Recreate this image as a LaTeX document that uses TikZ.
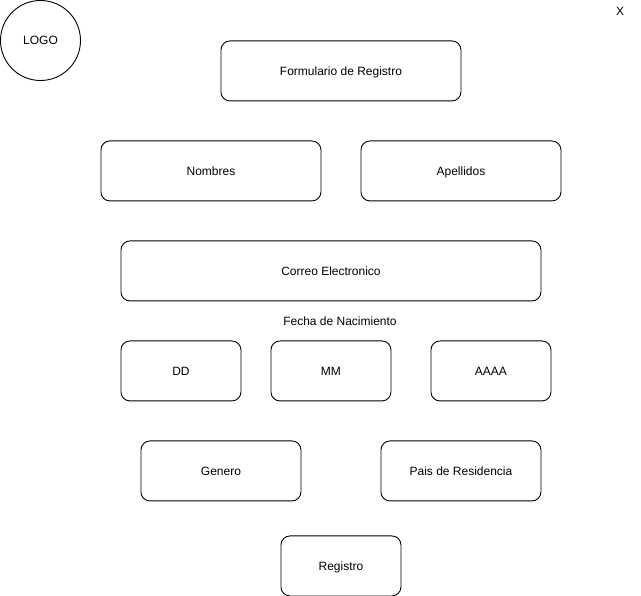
\documentclass[tikz,border=0pt]{standalone}
\usepackage{fontspec}
\setmainfont{Liberation Sans}
\begin{document}
\begin{tikzpicture}[x=1pt,y=-1pt,
  box/.style={draw, line width=0.9pt, rounded corners=9pt, anchor=north west, inner sep=0pt, text height=11.5pt, text depth=2.5pt, font=\fontsize{12}{14}\selectfont},
  lbl/.style={inner sep=0pt, text height=11.5pt, text depth=2.5pt, font=\fontsize{12}{14}\selectfont}]
\useasboundingbox (0,0) rectangle (641,596);
\node[draw, circle, line width=0.9pt, minimum size=80pt, inner sep=0pt, text height=11.5pt, text depth=2.5pt, font=\fontsize{12}{14}\selectfont] (logo) at (40.5,40.5) {LOGO};
\node[lbl] (close) at (620,11) {X};
\node[box, minimum width=240pt, minimum height=60pt] (form) at (220.5,40.5) {Formulario de Registro};
\node[box, minimum width=220pt, minimum height=60pt] (nom) at (100.5,140.5) {Nombres};
\node[box, minimum width=200pt, minimum height=60pt] (ape) at (360.5,140.5) {Apellidos};
\node[box, minimum width=420pt, minimum height=60pt] (correo) at (120.5,240.5) {Correo Electronico};
\node[lbl] (fecha) at (340,321) {Fecha de Nacimiento};
\node[box, minimum width=120pt, minimum height=60pt] (dd) at (120.5,340.5) {DD};
\node[box, minimum width=120pt, minimum height=60pt] (mm) at (270.5,340.5) {MM};
\node[box, minimum width=120pt, minimum height=60pt] (aaaa) at (430.5,340.5) {AAAA};
\node[box, minimum width=160pt, minimum height=60pt] (gen) at (140.5,440.5) {Genero};
\node[box, minimum width=160pt, minimum height=60pt] (pais) at (380.5,440.5) {Pais de Residencia};
\node[box, minimum width=120pt, minimum height=60pt] (reg) at (280.5,535.5) {Registro};
\end{tikzpicture}
\end{document}
